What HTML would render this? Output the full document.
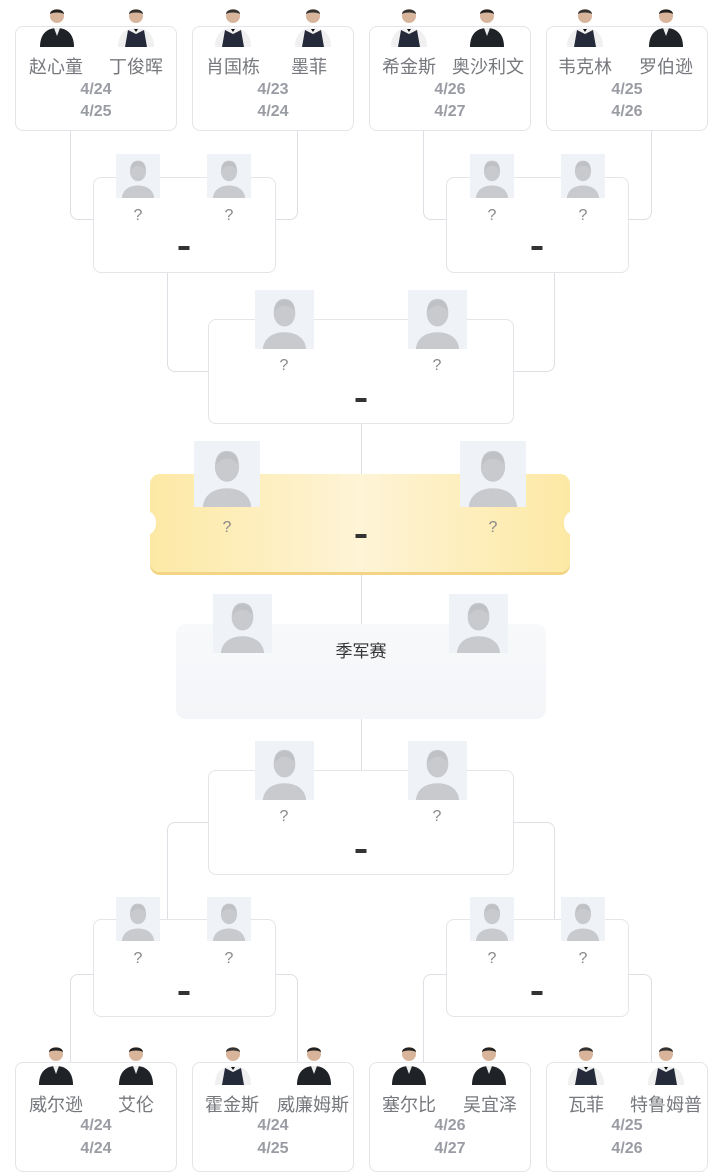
<!DOCTYPE html>
<html><head><meta charset="utf-8">
<style>
*{margin:0;padding:0;box-sizing:border-box}
body{width:720px;height:1160px;background:#fff;position:relative;overflow:hidden;font-family:"Liberation Sans","Noto Sans CJK SC",sans-serif}
.a{position:absolute}
.card{position:absolute;border:1px solid #e3e5e9;border-radius:8px;background:#fff}
.ln{position:absolute;border-color:#dcdfe4;border-style:solid;border-width:0}
.nm{position:absolute;font-size:18px;color:#76787d;white-space:nowrap;transform:translateX(-50%)}
.dt{position:absolute;font-size:16px;font-weight:bold;color:#9a9ca4;transform:translateX(-50%)}
.q{position:absolute;font-size:16px;color:#888;transform:translateX(-50%)}
.dash{position:absolute;width:11px;height:4px;background:#333;transform:translateX(-50%)}
svg.ph{position:absolute}
</style></head><body>
<svg width="0" height="0" style="position:absolute">
<defs>
<symbol id="av" viewBox="0 0 60 60"><rect width="60" height="60" fill="#eff3f7"/><path d="M19 24c0-10 4-15 11-15s11 5 11 15c0 6-4 13-11 13s-11-7-11-13z" fill="#c8cacd"/><path d="M20 22c0-6 3-12 10-12 7 0 10 5 10 11-3-3-6-5-10-5s-7 2-10 6z" fill="#bfc1c4"/><path d="M8 60c1-11 10-17 22-17s21 6 22 17z" fill="#c8cacd"/></symbol>
<symbol id="pd" viewBox="0 0 40 42"><circle cx="20" cy="11" r="7" fill="#d8b49a"/><path d="M13 9c0-6 14-6 14 0-3-2-11-2-14 0z" fill="#222"/><path d="M3 42c0-12 6-19 17-19s17 7 17 19z" fill="#1f2226"/><path d="M17 23l3 8 3-8z" fill="#eee"/></symbol>
<symbol id="pv" viewBox="0 0 40 42"><circle cx="20" cy="11" r="7" fill="#d8b49a"/><path d="M13 9c0-6 14-6 14 0-3-2-11-2-14 0z" fill="#333"/><path d="M2 42c0-12 6-19 18-19s18 7 18 19z" fill="#f0f0f0"/><path d="M9 42l3-17 8 4 8-4 3 17z" fill="#252a3a"/><path d="M18 24h4l-2 3z" fill="#111"/></symbol>
</defs></svg>

<div class="ln" style="left:70px;top:130px;width:228px;height:90px;border-width:0 1px 1px 1px;border-radius:0 0 8px 8px"></div>
<div class="ln" style="left:423px;top:130px;width:229px;height:90px;border-width:0 1px 1px 1px;border-radius:0 0 8px 8px"></div>
<div class="ln" style="left:167px;top:272px;width:388px;height:100px;border-width:0 1px 1px 1px;border-radius:0 0 8px 8px"></div>
<div class="ln" style="left:361px;top:423px;height:350px;border-left-width:1px"></div>
<div class="ln" style="left:167px;top:822px;width:388px;height:100px;border-width:1px 1px 0 1px;border-radius:8px 8px 0 0"></div>
<div class="ln" style="left:70px;top:974px;width:228px;height:90px;border-width:1px 1px 0 1px;border-radius:8px 8px 0 0"></div>
<div class="ln" style="left:423px;top:974px;width:229px;height:90px;border-width:1px 1px 0 1px;border-radius:8px 8px 0 0"></div>

<div class="card" style="left:15px;top:26px;width:162px;height:105px"></div>
<div class="card" style="left:192px;top:26px;width:162px;height:105px"></div>
<div class="card" style="left:369px;top:26px;width:162px;height:105px"></div>
<div class="card" style="left:546px;top:26px;width:162px;height:105px"></div>
<svg class="ph" style="left:37px;top:5px" width="40" height="42"><use href="#pd"/></svg>
<svg class="ph" style="left:116px;top:5px" width="40" height="42"><use href="#pv"/></svg>
<svg class="ph" style="left:213px;top:5px" width="40" height="42"><use href="#pv"/></svg>
<svg class="ph" style="left:293px;top:5px" width="40" height="42"><use href="#pv"/></svg>
<svg class="ph" style="left:389px;top:5px" width="40" height="42"><use href="#pv"/></svg>
<svg class="ph" style="left:467px;top:5px" width="40" height="42"><use href="#pd"/></svg>
<svg class="ph" style="left:565px;top:5px" width="40" height="42"><use href="#pv"/></svg>
<svg class="ph" style="left:646px;top:5px" width="40" height="42"><use href="#pd"/></svg>
<div class="nm" style="left:56px;top:53px">赵心童</div><div class="nm" style="left:136px;top:53px">丁俊晖</div>
<div class="nm" style="left:233px;top:53px">肖国栋</div><div class="nm" style="left:309px;top:53px">墨菲</div>
<div class="nm" style="left:409px;top:53px">希金斯</div><div class="nm" style="left:488px;top:53px">奥沙利文</div>
<div class="nm" style="left:585px;top:53px">韦克林</div><div class="nm" style="left:666px;top:53px">罗伯逊</div>
<div class="dt" style="left:96px;top:81px">4/24</div><div class="dt" style="left:96px;top:103px">4/25</div>
<div class="dt" style="left:273px;top:81px">4/23</div><div class="dt" style="left:273px;top:103px">4/24</div>
<div class="dt" style="left:450px;top:81px">4/26</div><div class="dt" style="left:450px;top:103px">4/27</div>
<div class="dt" style="left:627px;top:81px">4/25</div><div class="dt" style="left:627px;top:103px">4/26</div>

<div class="card" style="left:93px;top:177px;width:183px;height:96px"></div>
<div class="card" style="left:446px;top:177px;width:183px;height:96px"></div>
<svg class="ph" style="left:116px;top:154px" width="44" height="44"><use href="#av"/></svg>
<svg class="ph" style="left:207px;top:154px" width="44" height="44"><use href="#av"/></svg>
<svg class="ph" style="left:470px;top:154px" width="44" height="44"><use href="#av"/></svg>
<svg class="ph" style="left:561px;top:154px" width="44" height="44"><use href="#av"/></svg>
<div class="q" style="left:138px;top:207px">?</div><div class="q" style="left:229px;top:207px">?</div>
<div class="q" style="left:492px;top:207px">?</div><div class="q" style="left:583px;top:207px">?</div>
<div class="dash" style="left:184px;top:246px"></div><div class="dash" style="left:537px;top:246px"></div>

<div class="card" style="left:208px;top:319px;width:306px;height:105px"></div>
<svg class="ph" style="left:255px;top:290px" width="59" height="59"><use href="#av"/></svg>
<svg class="ph" style="left:408px;top:290px" width="59" height="59"><use href="#av"/></svg>
<div class="q" style="left:284px;top:357px">?</div><div class="q" style="left:437px;top:357px">?</div>
<div class="dash" style="left:361px;top:398px"></div>

<div class="a" style="left:150px;top:474px;width:420px;height:98px;border-radius:10px;background:linear-gradient(90deg,#fde9a5 0%,#fef4d6 50%,#fde9a5 100%);box-shadow:0 3px 0 #f3d484"></div>
<div class="a" style="left:142px;top:512px;width:14px;height:22px;border-radius:50%;background:#fff"></div>
<div class="a" style="left:564px;top:512px;width:14px;height:22px;border-radius:50%;background:#fff"></div>
<svg class="ph" style="left:194px;top:441px" width="66" height="66"><use href="#av"/></svg>
<svg class="ph" style="left:460px;top:441px" width="66" height="66"><use href="#av"/></svg>
<div class="q" style="left:227px;top:519px">?</div><div class="q" style="left:493px;top:519px">?</div>
<div class="dash" style="left:361px;top:534px"></div>

<div class="a" style="left:176px;top:624px;width:370px;height:95px;border-radius:10px;background:linear-gradient(#f8f9fb,#f3f5f8)"></div>
<svg class="ph" style="left:213px;top:594px" width="59" height="59"><use href="#av"/></svg>
<svg class="ph" style="left:449px;top:594px" width="59" height="59"><use href="#av"/></svg>
<div class="a" style="left:361px;top:637px;transform:translateX(-50%);font-size:17px;color:#333">季军赛</div>

<div class="card" style="left:208px;top:770px;width:306px;height:105px"></div>
<svg class="ph" style="left:255px;top:741px" width="59" height="59"><use href="#av"/></svg>
<svg class="ph" style="left:408px;top:741px" width="59" height="59"><use href="#av"/></svg>
<div class="q" style="left:284px;top:808px">?</div><div class="q" style="left:437px;top:808px">?</div>
<div class="dash" style="left:361px;top:849px"></div>

<div class="card" style="left:93px;top:919px;width:183px;height:98px"></div>
<div class="card" style="left:446px;top:919px;width:183px;height:98px"></div>
<svg class="ph" style="left:116px;top:897px" width="44" height="44"><use href="#av"/></svg>
<svg class="ph" style="left:207px;top:897px" width="44" height="44"><use href="#av"/></svg>
<svg class="ph" style="left:470px;top:897px" width="44" height="44"><use href="#av"/></svg>
<svg class="ph" style="left:561px;top:897px" width="44" height="44"><use href="#av"/></svg>
<div class="q" style="left:138px;top:950px">?</div><div class="q" style="left:229px;top:950px">?</div>
<div class="q" style="left:492px;top:950px">?</div><div class="q" style="left:583px;top:950px">?</div>
<div class="dash" style="left:184px;top:991px"></div><div class="dash" style="left:537px;top:991px"></div>

<div class="card" style="left:15px;top:1062px;width:162px;height:110px"></div>
<div class="card" style="left:192px;top:1062px;width:162px;height:110px"></div>
<div class="card" style="left:369px;top:1062px;width:162px;height:110px"></div>
<div class="card" style="left:546px;top:1062px;width:162px;height:110px"></div>
<svg class="ph" style="left:36px;top:1042px" width="40" height="44"><use href="#pd"/></svg>
<svg class="ph" style="left:116px;top:1042px" width="40" height="44"><use href="#pd"/></svg>
<svg class="ph" style="left:213px;top:1042px" width="40" height="44"><use href="#pv"/></svg>
<svg class="ph" style="left:294px;top:1042px" width="40" height="44"><use href="#pd"/></svg>
<svg class="ph" style="left:389px;top:1042px" width="40" height="44"><use href="#pd"/></svg>
<svg class="ph" style="left:469px;top:1042px" width="40" height="44"><use href="#pd"/></svg>
<svg class="ph" style="left:566px;top:1042px" width="40" height="44"><use href="#pv"/></svg>
<svg class="ph" style="left:646px;top:1042px" width="40" height="44"><use href="#pv"/></svg>
<div class="nm" style="left:56px;top:1091px">威尔逊</div><div class="nm" style="left:136px;top:1091px">艾伦</div>
<div class="nm" style="left:232px;top:1091px">霍金斯</div><div class="nm" style="left:313px;top:1091px">威廉姆斯</div>
<div class="nm" style="left:409px;top:1091px">塞尔比</div><div class="nm" style="left:490px;top:1091px">吴宜泽</div>
<div class="nm" style="left:586px;top:1091px">瓦菲</div><div class="nm" style="left:666px;top:1091px">特鲁姆普</div>
<div class="dt" style="left:96px;top:1117px">4/24</div><div class="dt" style="left:96px;top:1140px">4/24</div>
<div class="dt" style="left:273px;top:1117px">4/24</div><div class="dt" style="left:273px;top:1140px">4/25</div>
<div class="dt" style="left:450px;top:1117px">4/26</div><div class="dt" style="left:450px;top:1140px">4/27</div>
<div class="dt" style="left:627px;top:1117px">4/25</div><div class="dt" style="left:627px;top:1140px">4/26</div>
</body></html>
